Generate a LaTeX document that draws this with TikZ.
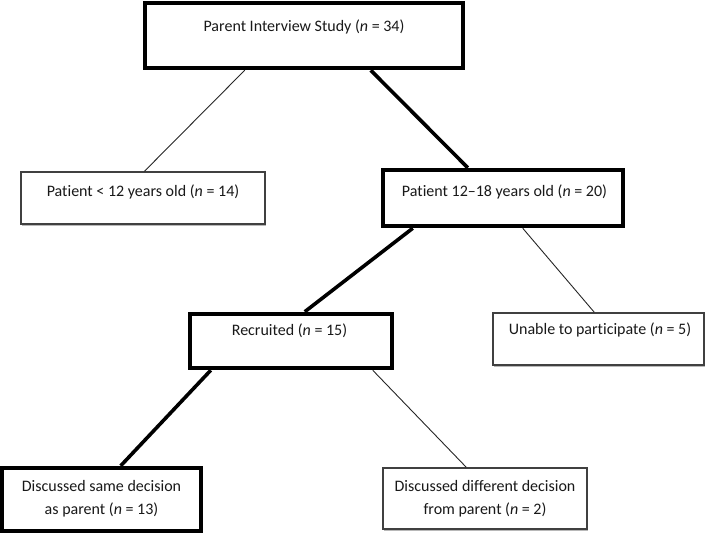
\documentclass[tikz,border=0pt]{standalone}
\usepackage{fontspec}
\setmainfont{Carlito}[Ligatures={NoCommon}]
\usetikzlibrary{shadows}
\tikzset{
  boxbase/.style={rectangle, inner sep=0pt, fill=white,
    drop shadow={shadow xshift=1.2pt, shadow yshift=-1.6pt, opacity=0.28, fill=black}},
  thickbox/.style={boxbase, draw=black, line width=4.5pt},
  thinbox/.style={boxbase, draw=black!75, line width=1.3pt},
  txt/.style={inner sep=0pt, align=center, font=\fontsize{16pt}{23pt}\selectfont, text=black!90},
  thinline/.style={draw=black!85, line width=0.9pt},
  thickline/.style={draw=black, line width=3.6pt},
}
\begin{document}
\begin{tikzpicture}[x=1pt,y=-1pt]
\useasboundingbox (0,0) rectangle (709,538);
% boxes
\node[thickbox, minimum width=318pt, minimum height=65pt] (top) at (304,35.5) {};
\node[thinbox, minimum width=244pt, minimum height=52pt] (lt12) at (143,198) {};
\node[thickbox, minimum width=240pt, minimum height=56pt] (p1218) at (503,198) {};
\node[thickbox, minimum width=202pt, minimum height=54pt] (rec) at (291,341) {};
\node[thinbox, minimum width=211pt, minimum height=52pt] (unable) at (598.5,339) {};
\node[thickbox, minimum width=199pt, minimum height=63pt] (same) at (101.5,499.5) {};
\node[thinbox, minimum width=204pt, minimum height=61pt] (diff) at (485,498.5) {};
% texts
\node[txt] (ttop) at (304,27) {Parent Interview Study (\textit{n} = 34)};
\node[txt] (tlt12) at (143,192) {Patient < 12 years old (\textit{n} = 14)};
\node[txt] (tp1218) at (504.5,192) {Patient 12–18 years old (\textit{n} = 20)};
\node[txt] (trec) at (289.5,331) {Recruited (\textit{n} = 15)};
\node[txt] (tunable) at (600,330) {Unable to participate (\textit{n} = 5)};
\node[txt] (tsame) at (101.5,498.5) {Discussed same decision\\as parent (\textit{n} = 13)};
\node[txt] (tdiff) at (485,498.5) {Discussed different decision\\from parent (\textit{n} = 2)};
% connectors
\draw[thinline] ([xshift=102pt]top.south west) -- ([xshift=124pt]lt12.north west);
\draw[thickline] ([xshift=228pt]top.south west) -- ([xshift=87pt]p1218.north west);
\draw[thickline] ([xshift=32pt]p1218.south west) -- ([xshift=117pt]rec.north west);
\draw[thinline] ([xshift=142pt]p1218.south west) -- ([xshift=102pt]unable.north west);
\draw[thickline] ([xshift=23pt]rec.south west) -- ([xshift=121pt]same.north west);
\draw[thinline] ([xshift=185pt]rec.south west) -- ([xshift=84pt]diff.north west);
\end{tikzpicture}
\end{document}
